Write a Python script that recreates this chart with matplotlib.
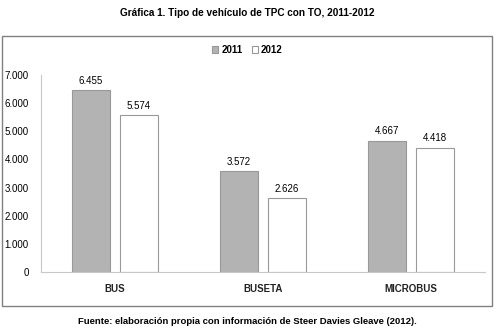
import matplotlib.pyplot as plt
import matplotlib.patches as mpatches
import numpy as np

plt.rcParams['font.family'] = ['Liberation Sans Narrow', 'Liberation Sans', 'DejaVu Sans']

categories = ['BUS', 'BUSETA', 'MICROBUS']
v2011 = [6455, 3572, 4667]
v2012 = [5574, 2626, 4418]
yticks = [0, 1000, 2000, 3000, 4000, 5000, 6000, 7000]

def fmt(v):
    return '{:,}'.format(v).replace(',', '.')

fig = plt.figure(figsize=(4.95, 3.29), dpi=100)
fig.patch.set_facecolor('white')

# outer frame
frame = mpatches.Rectangle((2 / 495, 1 - 306 / 329), 490 / 495, 270 / 329,
                           transform=fig.transFigure, fill=False,
                           edgecolor='#808080', linewidth=1.0)
fig.add_artist(frame)

fig.text(0.5, 1 - 13 / 329, 'Gráfica 1. Tipo de vehículo de TPC con TO, 2011-2012',
         ha='center', va='center', fontsize=7.2, fontweight='bold')
fig.text(0.5, 1 - 321 / 329,
         'Fuente: elaboración propia con información de Steer Davies Gleave (2012).',
         ha='center', va='center', fontsize=6.8, fontweight='bold')

ax = fig.add_axes([41 / 495, 1 - 272 / 329, 444 / 495, 197 / 329])
x = np.arange(len(categories))
w = 0.257
off = 0.162
b1 = ax.bar(x - off, v2011, w, color='#b3b3b3', edgecolor='#999999', linewidth=0.8, label='2011')
b2 = ax.bar(x + off, v2012, w, color='white', edgecolor='#999999', linewidth=0.8, label='2012')

for bars, vals in ((b1, v2011), (b2, v2012)):
    for r, v in zip(bars, vals):
        ax.text(r.get_x() + r.get_width() / 2, v + 150, fmt(v),
                ha='center', va='bottom', fontsize=7, family=['Liberation Sans', 'DejaVu Sans'])

ax.set_xlim(-0.5, 2.5)
ax.set_ylim(0, 7000)
ax.set_yticks(yticks)
ax.set_yticklabels([fmt(t) for t in yticks], fontsize=7, family=['Liberation Sans', 'DejaVu Sans'])
ax.set_xticks(x)
ax.set_xticklabels(categories, fontsize=7, fontweight='bold', color='#222222')
ax.tick_params(axis='y', length=0, pad=9)
ax.tick_params(axis='x', length=0, pad=9)
for s in ('top', 'right'):
    ax.spines[s].set_visible(False)
for s in ('left', 'bottom'):
    ax.spines[s].set_color('#c8c8c8')
    ax.spines[s].set_linewidth(0.8)

fig.legend(handles=[b1, b2], loc='center', bbox_to_anchor=(0.5, 1 - 50 / 329),
           ncol=2, frameon=False, handlelength=0.6, handleheight=0.6,
           handletextpad=0.3, columnspacing=1.0, prop={'weight': 'bold', 'size': 7})

fig.savefig('out.png', dpi=100)
